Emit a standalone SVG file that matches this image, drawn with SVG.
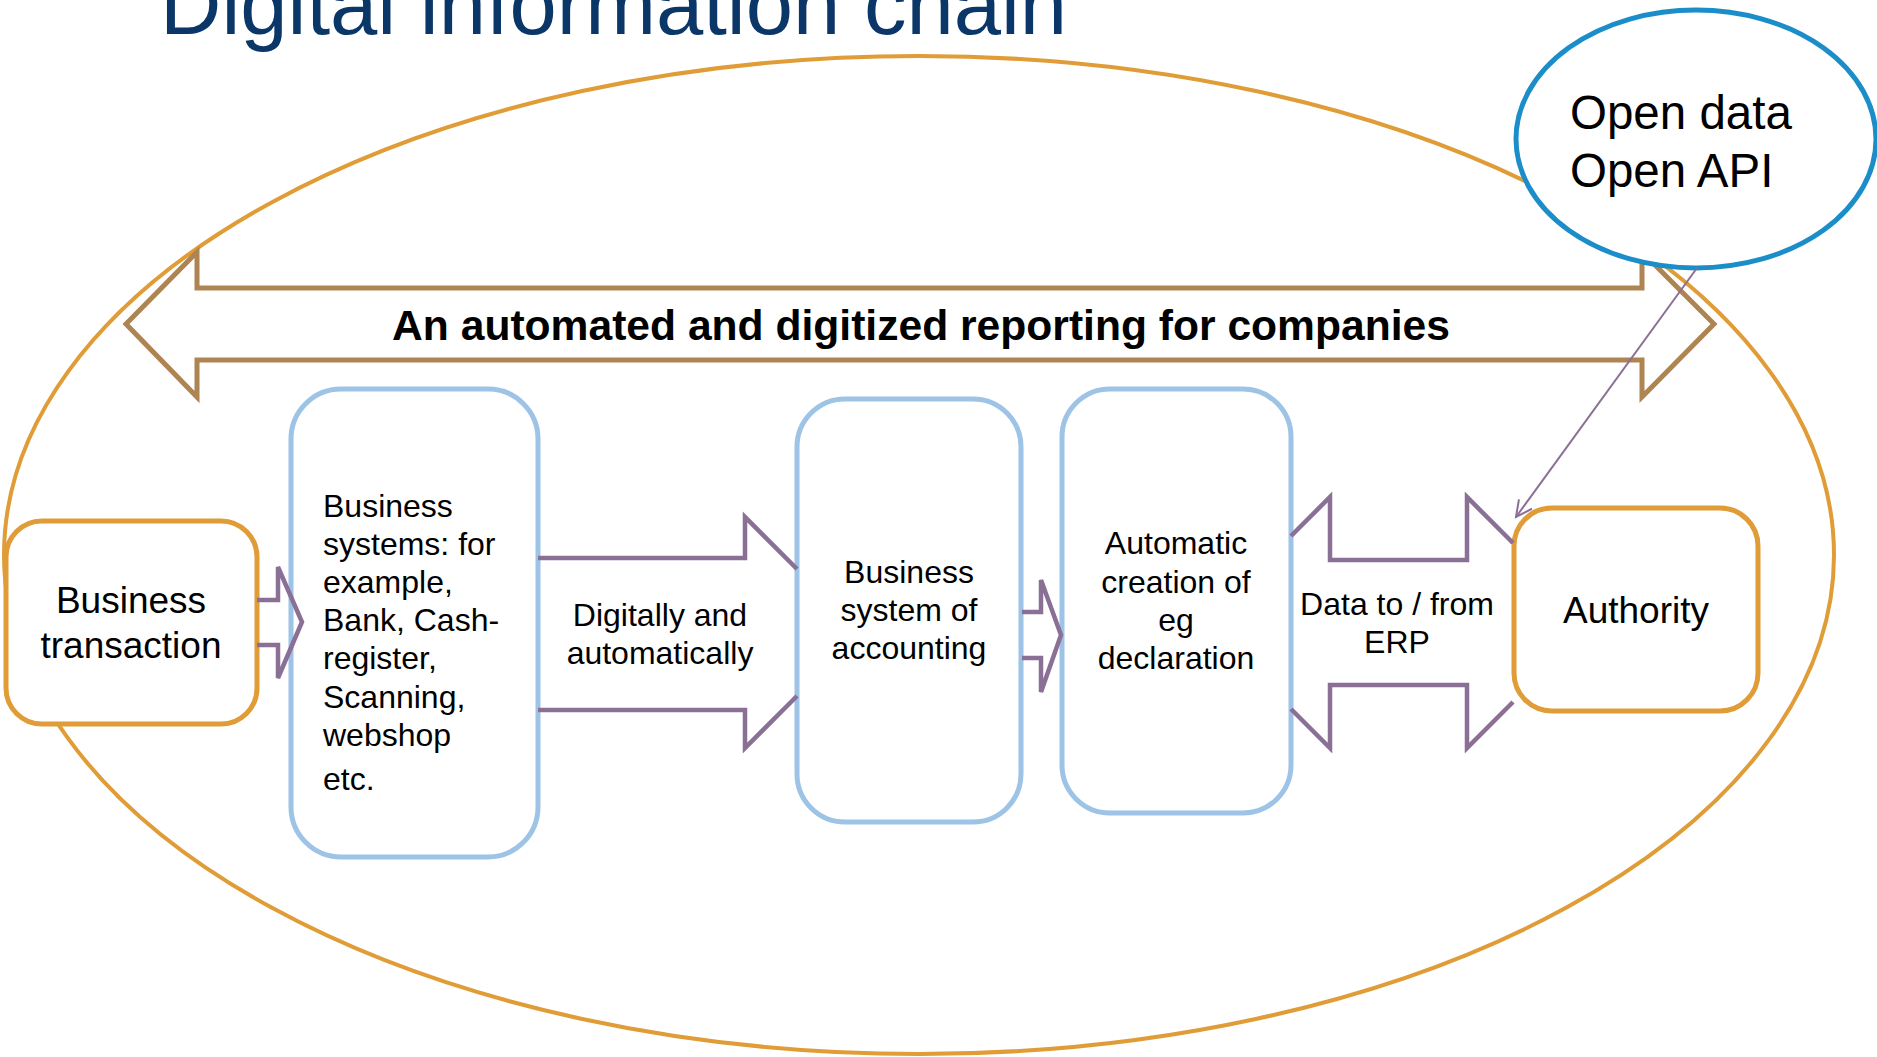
<svg xmlns="http://www.w3.org/2000/svg" width="1877" height="1057" viewBox="0 0 1877 1057">
<defs>
<style>
text{font-family:"Liberation Sans",Arial,sans-serif;fill:#000}
.title{font-size:85px;fill:#0B3668}
.orange{fill:#fff;stroke:#E09C37;stroke-width:5}
.blue{fill:#fff;stroke:#9DC3E6;stroke-width:5}
.parrow{fill:none;stroke:#8B7096;stroke-width:4.5;stroke-linejoin:miter}
.lbl{font-size:32px}
.big{font-size:37px}
.c{text-anchor:middle}
</style>
<marker id="openArrow" viewBox="0 0 20 20" refX="18" refY="10" markerWidth="20" markerHeight="20" markerUnits="userSpaceOnUse" orient="auto">
<path d="M2,2 L18,10 L2,18" fill="none" stroke="#8B7096" stroke-width="2"/>
</marker>
</defs>
<rect width="1877" height="1057" fill="#fff"/>
<text class="title" x="160" y="34">Digital information chain</text>
<ellipse id="scope" cx="919" cy="555" rx="915" ry="499" fill="none" stroke="#E09C37" stroke-width="4"/>
<g id="banner">
<polygon points="126,324 197,252 197,288 1642,288 1642,252 1714,324 1642,397 1642,360 197,360 197,397" fill="none" stroke="#AE8452" stroke-width="5" stroke-linejoin="miter"/>
<text x="921" y="340" class="c" style="font-size:42.6px;font-weight:bold">An automated and digitized reporting for companies</text>
</g>
<g id="business-transaction">
<rect class="orange" x="6" y="521" width="251" height="203" rx="36"/>
<text class="big c" x="131" y="613">Business</text>
<text class="big c" x="131" y="658">transaction</text>
</g>
<g id="business-systems">
<rect class="blue" x="291" y="389" width="247" height="468" rx="50"/>
<text class="lbl" x="323" y="517">Business</text>
<text class="lbl" x="323" y="555">systems: for</text>
<text class="lbl" x="323" y="593">example,</text>
<text class="lbl" x="323" y="631">Bank, Cash-</text>
<text class="lbl" x="323" y="669">register,</text>
<text class="lbl" x="323" y="708">Scanning,</text>
<text class="lbl" x="323" y="746">webshop</text>
<text class="lbl" x="323" y="790">etc.</text>
</g>
<g id="accounting-system">
<rect class="blue" x="797" y="399" width="224" height="423" rx="48"/>
<text class="lbl c" x="909" y="583">Business</text>
<text class="lbl c" x="909" y="621">system of</text>
<text class="lbl c" x="909" y="659">accounting</text>
</g>
<g id="automatic-declaration">
<rect class="blue" x="1062" y="389" width="229" height="424" rx="48"/>
<text class="lbl c" x="1176" y="554">Automatic</text>
<text class="lbl c" x="1176" y="593">creation of</text>
<text class="lbl c" x="1176" y="631">eg</text>
<text class="lbl c" x="1176" y="669">declaration</text>
</g>
<g id="authority">
<rect class="orange" x="1514" y="508" width="244" height="203" rx="38"/>
<text class="big c" x="1636" y="623">Authority</text>
</g>
<g id="open-data">
<ellipse cx="1696" cy="139" rx="180" ry="129" fill="#fff" stroke="#1B8DC8" stroke-width="5"/>
<text x="1570" y="129" style="font-size:47.5px">Open data</text>
<text x="1570" y="187" style="font-size:47.5px">Open API</text>
</g>
<g id="connectors">
<polyline class="parrow" points="257,600 278,600 278,567 302,622 278,678 278,645 257,645"/>
<polyline class="parrow" points="538,558 745,558 745,517 797,569"/>
<polyline class="parrow" points="538,710 745,710 745,748 797,696"/>
<text class="lbl c" x="660" y="626">Digitally and</text>
<text class="lbl c" x="660" y="664">automatically</text>
<polyline class="parrow" points="1022,612 1041,612 1041,580 1061,635 1041,692 1041,658 1022,658"/>
<polyline class="parrow" points="1291,536 1330,497 1330,560 1467,560 1467,497 1513,543"/>
<polyline class="parrow" points="1291,709 1330,748 1330,685 1467,685 1467,748 1513,702"/>
<text class="lbl c" x="1397" y="615">Data to / from</text>
<text class="lbl c" x="1397" y="653">ERP</text>
<line x1="1697" y1="268" x2="1516" y2="517" stroke="#8B7096" stroke-width="2" marker-end="url(#openArrow)"/>
</g>
</svg>
